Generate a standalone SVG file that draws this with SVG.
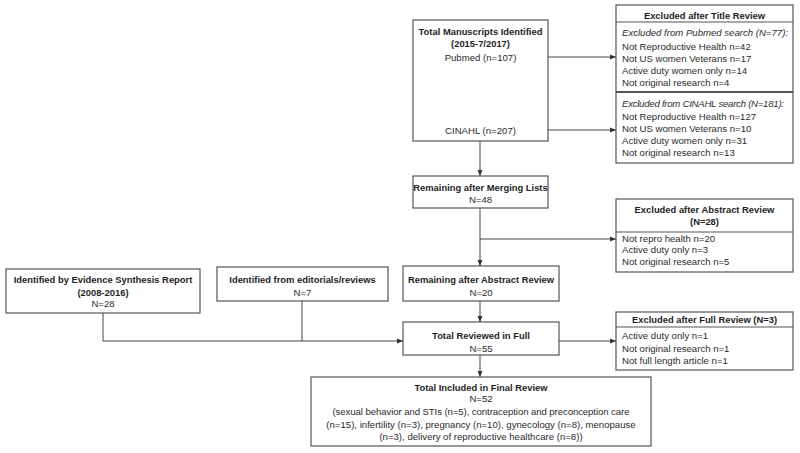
<svg xmlns="http://www.w3.org/2000/svg" width="800" height="453" viewBox="0 0 800 453">
<defs>
<marker id="ah" markerUnits="userSpaceOnUse" markerWidth="6" markerHeight="6" viewBox="0 0 6 6" refX="6" refY="3" orient="auto">
<path d="M0,0.5 L6,3 L0,5.5 Z" fill="#333"/>
</marker>
<style>
.box{fill:#fff;stroke:#555;stroke-width:1.2}
.div{stroke:#555;stroke-width:1.2;fill:none}
.ln{stroke:#444;stroke-width:1;fill:none}
.arr{stroke:#444;stroke-width:1;fill:none;marker-end:url(#ah)}
text{font-family:"Liberation Sans",Arial,sans-serif;font-size:9.6px;fill:#2b2b2b}
.b{font-weight:bold;font-size:9.4px;fill:#1e1e1e}
.c{text-anchor:middle}
.i{font-style:italic}
</style>
</defs>
<rect width="800" height="453" fill="#fff"/>
<g id="connectors">
<line class="arr" x1="548" y1="57" x2="616" y2="57"/>
<line class="arr" x1="548" y1="130" x2="616" y2="130"/>
<line class="arr" x1="480" y1="141" x2="480" y2="176"/>
<line class="arr" x1="480" y1="208" x2="480" y2="266"/>
<line class="arr" x1="480" y1="239" x2="616" y2="239"/>
<line class="arr" x1="480" y1="301" x2="480" y2="322"/>
<polyline class="ln" points="103,313 103,341"/>
<polyline class="ln" points="302,301 302,341"/>
<line class="arr" x1="103" y1="341" x2="403" y2="341"/>
<line class="arr" x1="559" y1="341" x2="616" y2="341"/>
<line class="arr" x1="480" y1="355" x2="480" y2="377"/>
</g>
<g id="total-identified">
<rect class="box" x="413" y="20" width="135" height="121"/>
<text class="b c" x="480.5" y="35">Total Manuscripts Identified</text>
<text class="b c" x="480.5" y="47">(2015-7/2017)</text>
<text class="c" x="480.5" y="61">Pubmed  (n=107)</text>
<text class="c" x="480.5" y="134">CINAHL  (n=207)</text>
</g>
<g id="excluded-title">
<rect class="box" x="616" y="5" width="177" height="158"/>
<line class="div" x1="616" y1="22" x2="793" y2="22"/>
<line class="div" x1="616" y1="92" x2="793" y2="92" style="stroke-width:2"/>
<text class="b c" x="704.5" y="18.5">Excluded after Title Review</text>
<text class="i" x="622" y="36" textLength="166">Excluded from Pubmed search (N=77):</text>
<text x="622" y="49.5">Not Reproductive Health n=42</text>
<text x="622" y="62">Not US women  Veterans n=17</text>
<text x="622" y="74">Active duty women only n=14</text>
<text x="622" y="85.5">Not original research n=4</text>
<text class="i" x="622" y="106.5" textLength="162">Excluded from CINAHL  search (N=181):</text>
<text x="622" y="119.5">Not Reproductive Health n=127</text>
<text x="622" y="131.5">Not US women  Veterans n=10</text>
<text x="622" y="143.5">Active duty women only n=31</text>
<text x="622" y="155.5">Not original research n=13</text>
</g>
<g id="merging">
<rect class="box" x="413" y="176" width="135" height="32"/>
<text class="b c" x="480.5" y="190.5">Remaining after Merging Lists</text>
<text class="c" x="480.5" y="202.5">N=48</text>
</g>
<g id="excluded-abstract">
<rect class="box" x="616" y="199" width="177" height="73"/>
<line class="div" x1="616" y1="232" x2="793" y2="232"/>
<text class="b c" x="704.5" y="212.5">Excluded after Abstract Review</text>
<text class="b c" x="704.5" y="224.5">(N=28)</text>
<text x="622" y="241.5">Not repro health n=20</text>
<text x="622" y="252.5">Active duty only n=3</text>
<text x="622" y="264.5">Not original research n=5</text>
</g>
<g id="remaining-abstract">
<rect class="box" x="403" y="266" width="156" height="35"/>
<text class="b c" x="481" y="282.5">Remaining after Abstract Review</text>
<text class="c" x="481" y="295.5">N=20</text>
</g>
<g id="evidence-synthesis">
<rect class="box" x="6" y="269" width="194" height="44"/>
<text class="b c" x="103" y="282.5">Identified by Evidence Synthesis Report</text>
<text class="b c" x="103" y="296">(2008-2016)</text>
<text class="c" x="103" y="306.5">N=28</text>
</g>
<g id="editorials">
<rect class="box" x="217" y="267" width="171" height="34"/>
<text class="b c" x="302.5" y="282.5">Identified from editorials/reviews</text>
<text class="c" x="302.5" y="295.5">N=7</text>
</g>
<g id="reviewed-full">
<rect class="box" x="403" y="322" width="156" height="33"/>
<text class="b c" x="481" y="338.5">Total Reviewed in Full</text>
<text class="c" x="481" y="351.5">N=55</text>
</g>
<g id="excluded-full">
<rect class="box" x="616" y="312" width="177" height="58"/>
<line class="div" x1="616" y1="327" x2="793" y2="327"/>
<text class="b c" x="704.5" y="322.5">Excluded after Full Review (N=3)</text>
<text x="622" y="338.5">Active duty only n=1</text>
<text x="622" y="351.5">Not original research n=1</text>
<text x="622" y="363.5">Not full length article n=1</text>
</g>
<g id="final">
<rect class="box" x="311" y="377" width="340" height="69"/>
<text class="b c" x="481" y="390.5">Total Included in Final Review</text>
<text class="c" x="481" y="401.5">N=52</text>
<text class="c" x="481" y="414.5" textLength="297">(sexual behavior and STIs (n=5), contraception and preconception care</text>
<text class="c" x="481" y="427.5">(n=15), infertility (n=3), pregnancy (n=10), gynecology (n=8), menopause</text>
<text class="c" x="481" y="439.5">(n=3), delivery of reproductive healthcare (n=8))</text>
</g>
</svg>
